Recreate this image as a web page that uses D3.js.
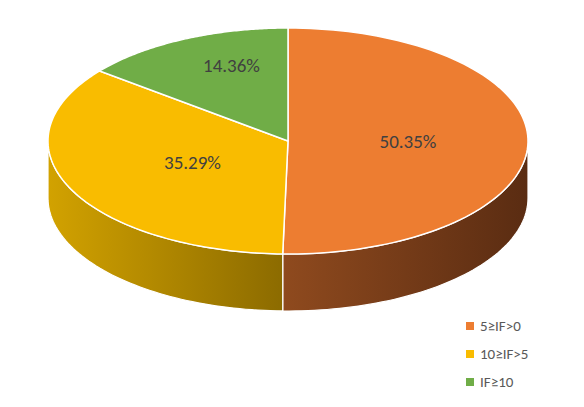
<!DOCTYPE html>
<html><head><meta charset="utf-8">
<script src="https://cdn.jsdelivr.net/npm/d3@7"></script>
<style>body{margin:0;background:#fff}</style></head>
<body><svg id="c" width="584" height="407"></svg>
<script>
const categories = ["5≥IF>0", "10≥IF>5", "IF≥10"];
const values = [50.35, 35.29, 14.36];
const labels = ["50.35%", "35.29%", "14.36%"];
const colors = ["#ED7D31", "#F9BC00", "#70AD47"];
const sideColors = [["#8f4a1e", "#5a2c12"], ["#d2a200", "#8c6b00"], ["#4a7a2e", "#355a20"]];

const svg = d3.select("#c");
const cx = 288, cy = 141, rx = 240, ry = 113, depth = 57;
const pie = d3.pie().sort(null).value(d => d)(values);
const P = (a, dy = 0) => [cx + rx * Math.sin(a), cy - ry * Math.cos(a) + dy];
const defs = svg.append("defs");

pie.forEach((s, i) => {
  const a0 = Math.max(s.startAngle, Math.PI / 2), a1 = Math.min(s.endAngle, 3 * Math.PI / 2);
  if (a1 <= a0) return;
  const xs = [P(a0)[0], P(a1)[0]];
  const g = defs.append("linearGradient").attr("id", "g" + i).attr("gradientUnits", "userSpaceOnUse")
    .attr("x1", Math.min(...xs)).attr("x2", Math.max(...xs)).attr("y1", 0).attr("y2", 0);
  g.append("stop").attr("offset", 0).attr("stop-color", sideColors[i][0]);
  g.append("stop").attr("offset", 1).attr("stop-color", sideColors[i][1]);
  const n = 60, pts = [];
  for (let k = 0; k <= n; k++) pts.push(P(a0 + (a1 - a0) * k / n));
  for (let k = n; k >= 0; k--) pts.push(P(a0 + (a1 - a0) * k / n, depth));
  svg.append("path").attr("d", d3.line()(pts) + "Z").attr("fill", `url(#g${i})`)
    .attr("stroke", "#fff").attr("stroke-width", 1.2);
});

pie.forEach((s, i) => {
  const n = 100, pts = [[cx, cy]];
  for (let k = 0; k <= n; k++) pts.push(P(s.startAngle + (s.endAngle - s.startAngle) * k / n));
  svg.append("path").attr("d", d3.line()(pts) + "Z").attr("fill", colors[i])
    .attr("stroke", "#fff").attr("stroke-width", 1.5).attr("stroke-linejoin", "round");
});

const labR = [[0.5, 0.5], [0.44, 0.44], [0.54, 0.74]];
pie.forEach((s, i) => {
  const m = (s.startAngle + s.endAngle) / 2;
  const x = cx + rx * labR[i][0] * Math.sin(m), y = cy - ry * labR[i][1] * Math.cos(m);
  svg.append("text").attr("x", x).attr("y", y).attr("dy", "0.35em").attr("text-anchor", "middle")
    .attr("font-family", "Carlito, 'Liberation Sans', sans-serif").attr("font-size", 19)
    .attr("fill", "#404040").text(labels[i]);
});

const lg = svg.append("g");
categories.forEach((c, i) => {
  const y = 326 + i * 28;
  lg.append("rect").attr("x", 466).attr("y", y - 4).attr("width", 8).attr("height", 8).attr("fill", colors[i]);
  lg.append("text").attr("x", 480).attr("y", y).attr("dy", "0.35em")
    .attr("font-family", "Carlito, 'Liberation Sans', sans-serif").attr("font-size", 15)
    .attr("fill", "#595959").text(c);
});
</script></body></html>
